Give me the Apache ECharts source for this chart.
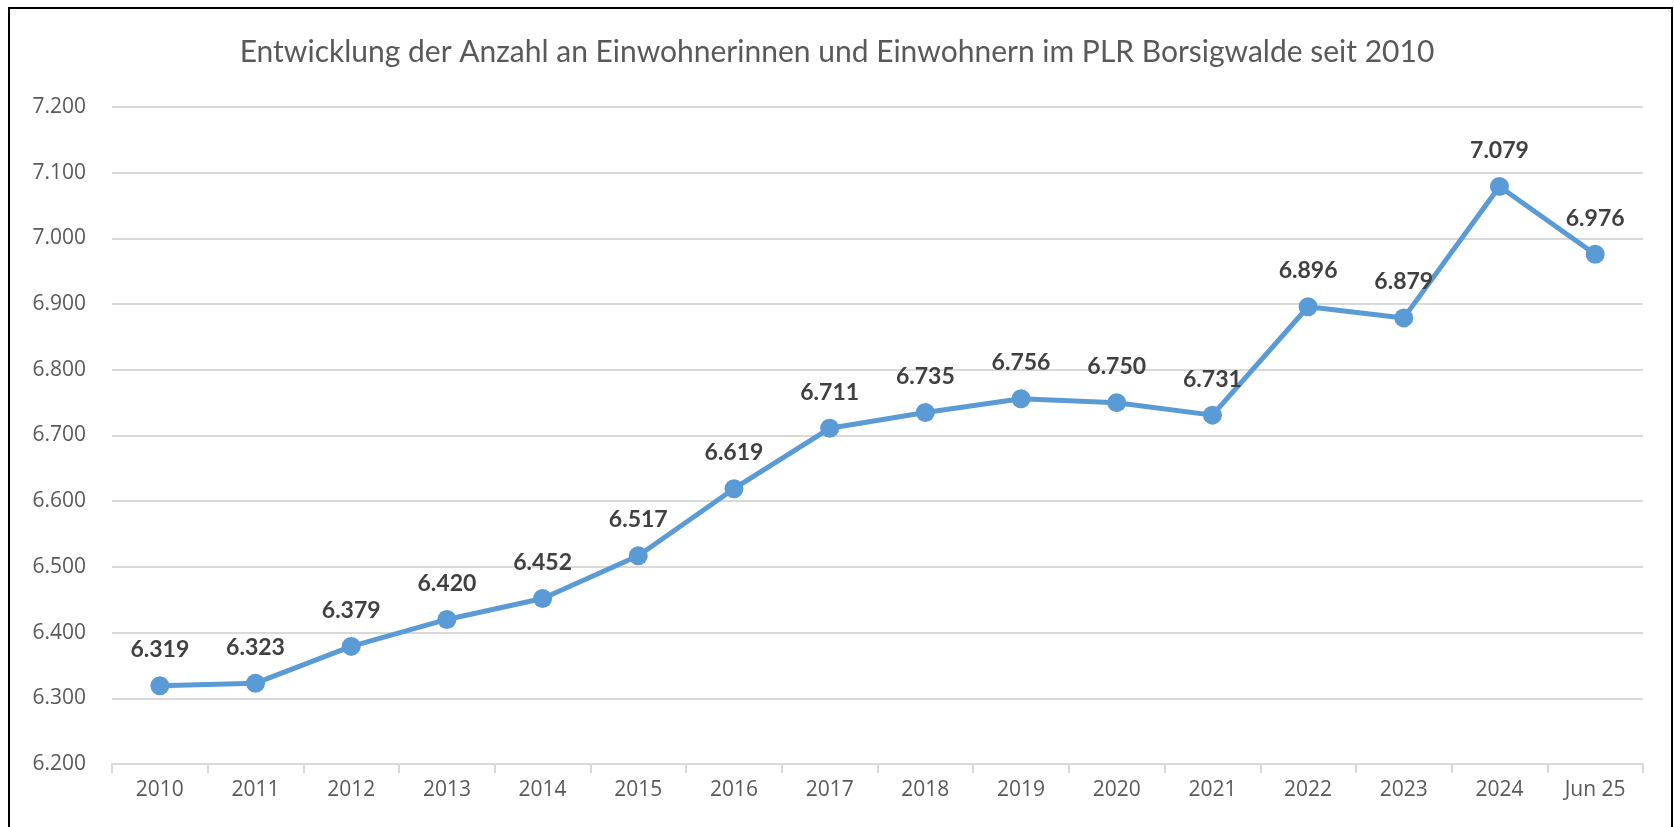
<!DOCTYPE html>
<html>
<head>
<meta charset="utf-8">
<script src="https://cdn.jsdelivr.net/npm/echarts@6/dist/echarts.min.js"></script>
<style>
  html, body { margin: 0; padding: 0; background: #fff; }
  #main { width: 1674px; height: 827px; }
</style>
</head>
<body>
<div id="main"></div>
<script>
const categories = ['2010', '2011', '2012', '2013', '2014', '2015', '2016', '2017', '2018', '2019', '2020', '2021', '2022', '2023', '2024', 'Jun 25']
const einwohner = [6319, 6323, 6379, 6420, 6452, 6517, 6619, 6711, 6735, 6756, 6750, 6731, 6896, 6879, 7079, 6976]
const yTicks = [6200, 6300, 6400, 6500, 6600, 6700, 6800, 6900, 7000, 7100, 7200]

// Tausenderpunkt wie im Original
const fmt = (v) => String(v).replace(/\B(?=(\d{3})+(?!\d))/g, '.')

const chart = echarts.init(document.getElementById('main'))
chart.setOption({
  animation: false,
  title: {
    text: 'Entwicklung der Anzahl an Einwohnerinnen und Einwohnern im PLR Borsigwalde seit 2010',
    left: 'center',
    top: 32,
    textStyle: { color: '#595959', fontFamily: 'Lato', fontWeight: 'normal', fontSize: 30 },
  },
  graphic: [
    {
      type: 'rect',
      shape: { x: 9, y: 8, width: 1663, height: 840 },
      style: { fill: 'none', stroke: '#000', lineWidth: 2 },
    },
  ],
  grid: { left: 112, right: 31, top: 107, bottom: 63 },
  xAxis: {
    type: 'category',
    data: categories,
    boundaryGap: true,
    axisLine: { lineStyle: { color: '#d9d9d9', width: 2 } },
    axisTick: { show: true, length: 9, lineStyle: { color: '#d9d9d9', width: 2 } },
    axisLabel: { color: '#595959', fontFamily: 'Open Sans', fontSize: 21, margin: 16 },
  },
  yAxis: {
    type: 'value',
    min: yTicks[0],
    max: yTicks[yTicks.length - 1],
    interval: 100,
    axisLine: { show: false },
    axisTick: { show: false },
    splitLine: { lineStyle: { color: '#d9d9d9', width: 2 } },
    axisLabel: { color: '#595959', fontFamily: 'Open Sans', fontSize: 21, margin: 26, formatter: fmt },
  },
  series: [
    {
      type: 'line',
      data: einwohner,
      symbol: 'circle',
      symbolSize: 19,
      lineStyle: { color: '#5b9bd5', width: 5 },
      itemStyle: { color: '#5b9bd5' },
      label: {
        show: true,
        position: 'top',
        distance: 15,
        color: '#404040',
        fontFamily: 'Lato',
        fontWeight: 'bold',
        fontSize: 23,
        formatter: (p) => fmt(p.value),
      },
    },
  ],
})
</script>
</body>
</html>
